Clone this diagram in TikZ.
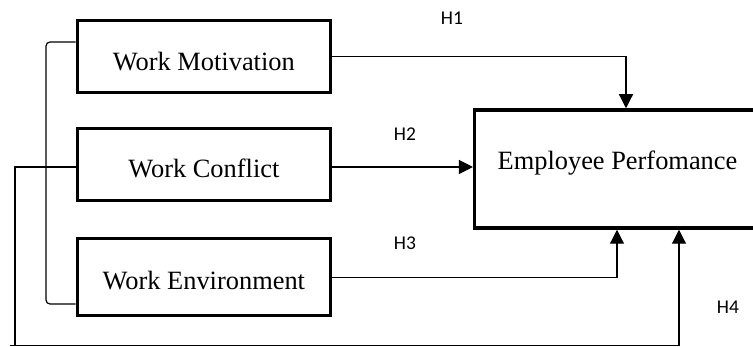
\documentclass[tikz,border=0pt]{standalone}
\usepackage{fontspec}
\setmainfont{Liberation Serif}
\newfontfamily\hfont{Carlito}
\usetikzlibrary{arrows.meta}
\begin{document}
\begin{tikzpicture}[x=1pt,y=-1pt,
  box/.style={draw, line width=3pt, minimum width=253.3pt, inner sep=0pt},
  btxt/.style={font=\fontsize{26.4}{30}\selectfont, anchor=base, inner sep=0pt},
  hlab/.style={font=\hfont\fontsize{19.5}{22}\selectfont, inner sep=0pt},
  conn/.style={line width=1.2pt, line join=miter},
  arr/.style={conn, -{Triangle[length=14pt,width=14pt]}}]
\useasboundingbox (0,0) rectangle (753,347);
\clip (0,0) rectangle (753,347);
% boxes
\node[box, minimum height=72.5pt] (wm) at (203.85,56.75) {};
\node[box, minimum height=72.2pt] (wc) at (203.85,164.4) {};
\node[box, minimum height=77pt] (we) at (203.85,277.3) {};
\node[draw, line width=3.5pt, minimum width=285.3pt, minimum height=118pt, inner sep=0pt] (ep) at (617.35,169) {};
% texts
\node[btxt, yshift=-13.5pt] (wmt) at (wm.center) {Work Motivation};
\node[btxt, yshift=-13.5pt] (wct) at (wc.center) {Work Conflict};
\node[btxt, yshift=-12.7pt] (wet) at (we.center) {Work Environment};
\node[btxt] (ept) at (617.5,169.5) {Employee Perfomance};
% helper coordinates
\coordinate (h1x) at (626,0);
\coordinate (h2y) at (0,167);
\coordinate (h3x) at (617,0);
\coordinate (c1) at (15,167);
\coordinate (c2) at (15,345.5);
\coordinate (c3) at (10,345.5);
\coordinate (h4x) at (679,345.5);
\coordinate (b1) at (46,42);
\coordinate (b2) at (46,304);
% connectors
\draw[arr] (wm.east) -| (h1x |- ep.north);
\draw[arr] (wc.east |- h2y) -- (ep.west |- h2y);
\draw[arr] (we.east) -| (h3x |- ep.south);
\draw[conn] (wc.west |- h2y) -- (c1) -- (c2);
\draw[arr] (c3) -- (h4x) -- (h4x |- ep.south);
\draw[conn, rounded corners=4pt] (wm.west |- b1) -- (b1) -- (b2) -- (we.west |- b2);
% labels
\node[hlab] (h1) at (452,18) {H1};
\node[hlab] (h2) at (405,134) {H2};
\node[hlab] (h3) at (405,243) {H3};
\node[hlab] (h4) at (728,307) {H4};
\end{tikzpicture}
\end{document}
